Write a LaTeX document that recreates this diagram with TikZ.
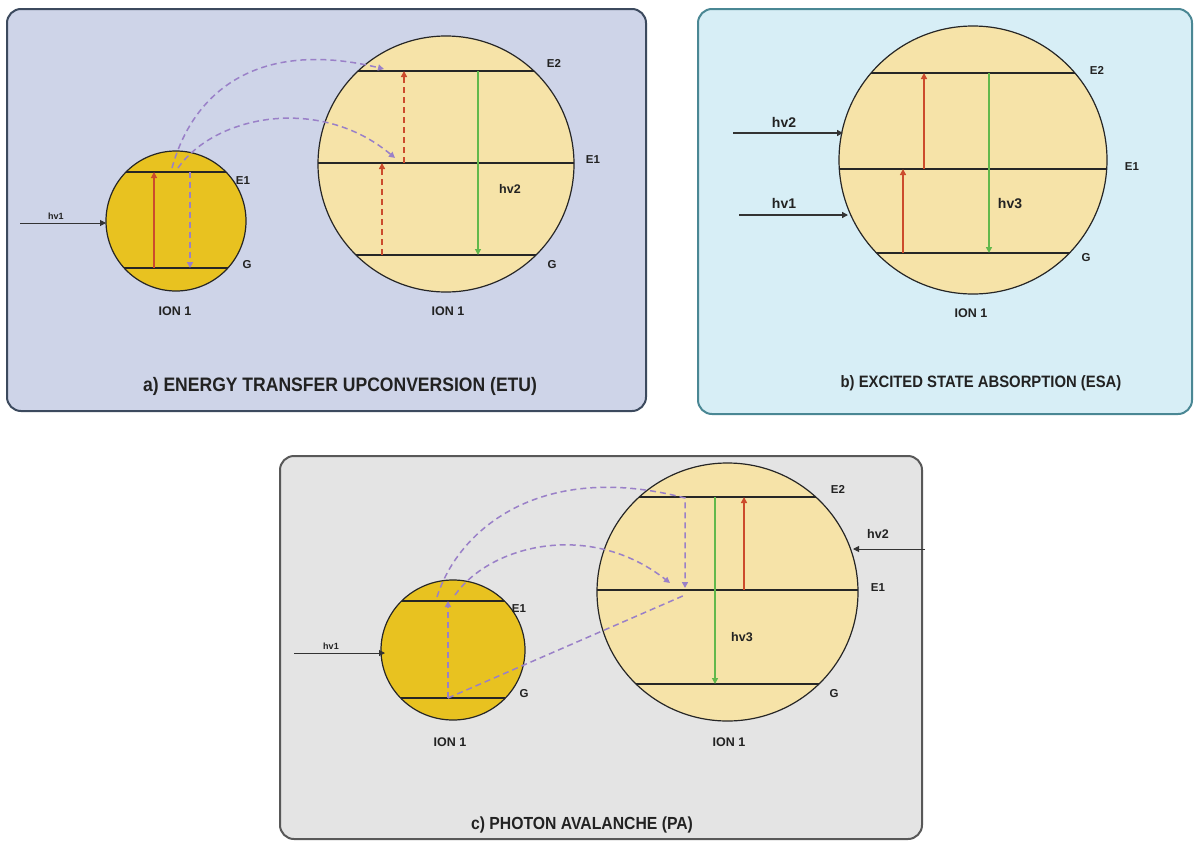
\documentclass[tikz,border=0pt]{standalone}
\usepackage{graphicx}
\usepackage{fontspec}
\setmainfont{Liberation Sans}
\usetikzlibrary{arrows.meta}
\definecolor{panA}{HTML}{CED4E8}
\definecolor{panAedge}{HTML}{3C4A5E}
\definecolor{panB}{HTML}{D7EEF6}
\definecolor{panBedge}{HTML}{4A8794}
\definecolor{panC}{HTML}{E4E4E4}
\definecolor{panCedge}{HTML}{585858}
\definecolor{ionDark}{HTML}{E8C220}
\definecolor{ionLight}{HTML}{F6E3A8}
\definecolor{redA}{HTML}{CC4B2C}
\definecolor{greenA}{HTML}{62B84B}
\definecolor{purp}{HTML}{9A80C8}
\definecolor{lvlc}{HTML}{262626}
\definecolor{txt}{HTML}{222222}
\begin{document}
\begin{tikzpicture}[x=1pt,y=-1pt,
  panel/.style={rounded corners=14pt, line width=2pt},
  ion/.style={draw=black!85, line width=1.2pt},
  lvl/.style={draw=lvlc, line width=1.3pt},
  tip/.style={-{Triangle[width=6pt,length=6pt]}},
  redsolid/.style={tip, draw=redA, line width=1.1pt},
  redthick/.style={tip, draw=redA, line width=1.8pt},
  reddash/.style={tip, draw=redA, line width=1.4pt, dash pattern=on 6pt off 4pt},
  greenline/.style={tip, draw=greenA, line width=1.2pt},
  purpdash/.style={draw=purp, line width=1.5pt, dash pattern=on 6pt off 4pt},
  purptip/.style={purpdash, tip},
  photon/.style={tip, draw=black!80, line width=1pt},
  lab/.style={font=\bfseries\fontsize{11.5}{12}\selectfont, text=txt, inner sep=0pt},
  ionlab/.style={font=\bfseries\fontsize{12.5}{13}\selectfont, text=txt, inner sep=0pt},
  hvsmall/.style={font=\bfseries\fontsize{9}{10}\selectfont, text=txt, inner sep=0pt},
  hvbig/.style={font=\bfseries\fontsize{14}{15}\selectfont, text=txt, inner sep=0pt},
  ttl/.style={text=txt, inner sep=0pt}
]
\useasboundingbox (0,0) rectangle (1194,841);
\fill[white] (0,0) rectangle (1194,841);

% ---------------- panels ----------------
\draw[panel, fill=panA, draw=panAedge] (7,9) rectangle (646,411);
\draw[panel, fill=panB, draw=panBedge] (698,9) rectangle (1192,414);
\draw[panel, fill=panC, draw=panCedge] (280,456) rectangle (922,839);

% ================= panel a =================
\draw[ion, fill=ionDark] (176,221) circle[radius=70pt];
\begin{scope}
\clip (176,221) circle[radius=70pt];
\draw[lvl] (100,172) -- (260,172);
\draw[lvl] (100,268) -- (260,268);
\end{scope}
\draw[ion, fill=ionLight] (446,164) circle[radius=128pt];
\begin{scope}
\clip (446,164) circle[radius=128pt];
\draw[lvl] (300,71) -- (600,71);
\draw[lvl] (300,163) -- (600,163);
\draw[lvl] (300,255) -- (600,255);
\end{scope}
\coordinate (aSG) at (154,268);
\coordinate (aSE) at (154,172);
\coordinate (aPD1) at (190,172);
\coordinate (aPD2) at (190,268);
\coordinate (aH0) at (20,223);
\coordinate (aH1) at (106,223);
\coordinate (aR1a) at (382,255);
\coordinate (aR1b) at (382,163);
\coordinate (aR2a) at (404,163);
\coordinate (aR2b) at (404,71);
\coordinate (aGa) at (478,71);
\coordinate (aGb) at (478,255);
\coordinate (aC1s) at (172,168);
\coordinate (aC1e) at (384,69);
\coordinate (aC2s) at (178,168);
\coordinate (aC2e) at (395,158);

\draw[redsolid] (aSG) -- (aSE);
\draw[purptip] (aPD1) -- (aPD2);
\draw[photon] (aH0) -- (aH1);
\draw[reddash] (aR1a) -- (aR1b);
\draw[reddash] (aR2a) -- (aR2b);
\draw[greenline] (aGa) -- (aGb);
\draw[purptip] (aC1s) .. controls (195,85) and (265,40) .. (aC1e);
\draw[purptip] (aC2s) .. controls (215,115) and (320,95) .. (aC2e);

\node[hvsmall] (ahv1) at (56,216) {hv1};
\node[lab] (aE1s) at (243,181) {E1};
\node[lab] (aGs) at (247,265) {G};
\node[ionlab] (aIon1) at (175,311) {ION 1};
\node[lab] (aE2) at (554,63) {E2};
\node[lab] (aE1) at (593,160) {E1};
\node[lab] (aG) at (552,265) {G};
\node[lab, font=\bfseries\fontsize{12.5}{13}\selectfont] (ahv2) at (510,189) {hv2};
\node[ionlab] (aIon2) at (448,311) {ION 1};
\node[ttl, font=\bfseries\fontsize{19.5}{20}\selectfont] (aTitle) at (340,386) {\scalebox{0.9}[1]{a) ENERGY TRANSFER UPCONVERSION (ETU)}};

% ================= panel b =================
\draw[ion, fill=ionLight] (973,160) circle[radius=134pt];
\begin{scope}
\clip (973,160) circle[radius=134pt];
\draw[lvl] (820,73) -- (1120,73);
\draw[lvl] (820,169) -- (1120,169);
\draw[lvl] (820,253) -- (1120,253);
\end{scope}
\coordinate (bR1a) at (903,253);
\coordinate (bR1b) at (903,169);
\coordinate (bR2a) at (924,169);
\coordinate (bR2b) at (924,73);
\coordinate (bGa) at (989,73);
\coordinate (bGb) at (989,253);
\coordinate (bH2a) at (733,133);
\coordinate (bH2b) at (843,133);
\coordinate (bH1a) at (739,215);
\coordinate (bH1b) at (848,215);
\draw[redsolid, line width=1.4pt] (bR1a) -- (bR1b);
\draw[redsolid, line width=1.4pt] (bR2a) -- (bR2b);
\draw[greenline, line width=1.6pt] (bGa) -- (bGb);
\draw[photon, line width=1.3pt] (bH2a) -- (bH2b);
\draw[photon, line width=1.3pt] (bH1a) -- (bH1b);
\node[hvbig] (bhv2) at (784,122) {hv2};
\node[hvbig] (bhv1) at (784,203) {hv1};
\node[hvbig] (bhv3) at (1010,204) {hv3};
\node[lab] (bE2) at (1097,70) {E2};
\node[lab] (bE1) at (1132,167) {E1};
\node[lab] (bG) at (1086,258) {G};
\node[ionlab] (bIon) at (971,313) {ION 1};
\node[ttl, font=\bfseries\fontsize{16.5}{17}\selectfont] (bTitle) at (981,383) {\scalebox{0.9}[1]{b) EXCITED STATE ABSORPTION (ESA)}};

% ================= panel c =================
\draw[ion, fill=ionDark] (453,650) ellipse[x radius=72pt, y radius=70pt];
\begin{scope}
\clip (453,650) ellipse[x radius=72pt, y radius=70pt];
\draw[lvl] (370,601) -- (540,601);
\draw[lvl] (370,698) -- (540,698);
\end{scope}
\draw[ion, fill=ionLight] (727.5,592) ellipse[x radius=130.5pt, y radius=129pt];
\begin{scope}
\clip (727.5,592) ellipse[x radius=130.5pt, y radius=129pt];
\draw[lvl] (580,497) -- (880,497);
\draw[lvl] (580,590) -- (880,590);
\draw[lvl] (580,684) -- (880,684);
\end{scope}
\coordinate (cPa) at (448,698);
\coordinate (cPb) at (448,601);
\coordinate (cH1a) at (294,653);
\coordinate (cH1b) at (385,653);
\coordinate (cH2a) at (925,549);
\coordinate (cH2b) at (853,549);
\coordinate (cGa) at (715,497);
\coordinate (cGb) at (715,684);
\coordinate (cRa) at (744,590);
\coordinate (cRb) at (744,497);
\coordinate (cO1) at (437,597);
\coordinate (cO2) at (685,498);
\coordinate (cO3) at (685,588);
\coordinate (cI1) at (455,595);
\coordinate (cI2) at (670,583);
\coordinate (cL2) at (685,595);

\draw[purptip] (cPa) -- (cPb);
\draw[photon] (cH1a) -- (cH1b);
\draw[photon] (cH2a) -- (cH2b);
\draw[greenline] (cGa) -- (cGb);
\draw[redthick] (cRa) -- (cRb);
\draw[purptip] (cO1) .. controls (458,530) and (540,460) .. (cO2) -- (cO3);
\draw[purptip] (cI1) .. controls (490,545) and (590,520) .. (cI2);
\draw[purpdash] (cPa) -- (cL2);

\node[hvsmall] (chv1) at (331,646) {hv1};
\node[lab] (cE1s) at (519,609) {E1};
\node[lab] (cGs) at (524,694) {G};
\node[ionlab] (cIon1) at (450,742) {ION 1};
\node[lab] (cE2) at (838,489) {E2};
\node[lab] (cE1) at (878,588) {E1};
\node[lab] (cG) at (834,694) {G};
\node[lab, font=\bfseries\fontsize{12.5}{13}\selectfont] (chv3) at (742,637) {hv3};
\node[lab, font=\bfseries\fontsize{12.5}{13}\selectfont] (chv2) at (878,534) {hv2};
\node[ionlab] (cIon2) at (729,742) {ION 1};
\node[ttl, font=\bfseries\fontsize{17.5}{18}\selectfont] (cTitle) at (582,825) {\scalebox{0.9}[1]{c) PHOTON AVALANCHE (PA)}};
\end{tikzpicture}
\end{document}
